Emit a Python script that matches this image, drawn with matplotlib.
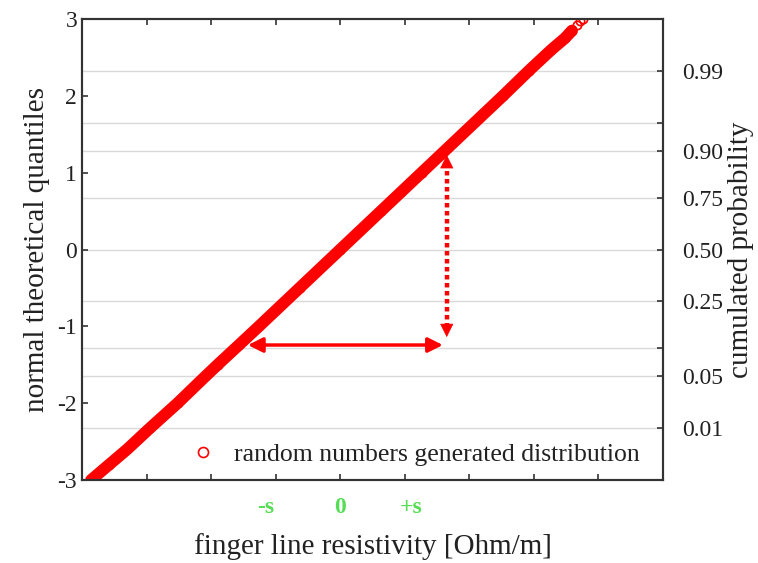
import matplotlib
matplotlib.use("Agg")
import matplotlib.pyplot as plt
from statistics import NormalDist

plt.rcParams['font.family'] = ['Liberation Serif', 'DejaVu Serif']

# normal theoretical quantiles (y) and resistivity readings in axis units (x)
quantiles = [-3.0, -2.8, -2.6, -2.326, -2.0, -1.7, -1.5, -1.243, -1.0, -0.5, 0.0,
             0.5, 1.0, 1.23, 1.5, 2.0, 2.326, 2.6, 2.75, 2.85, 2.92, 2.97, 3.0]
resistivity = [0.14, 0.42, 0.70, 1.05, 1.48, 1.85, 2.10, 2.43, 2.74, 3.37, 4.00,
               4.63, 5.26, 5.55, 5.89, 6.52, 6.92, 7.27, 7.48, 7.59, 7.66, 7.72, 7.76]

left_ticks = [-3, -2, -1, 0, 1, 2, 3]
prob_ticks = [0.01, 0.05, 0.10, 0.25, 0.50, 0.75, 0.90, 0.95, 0.99]
prob_labels = ['0.01', '0.05', '', '0.25', '0.50', '0.75', '0.90', '', '0.99']
x_ticks = list(range(0, 10))
sigma_pos = [2.85, 4.0, 5.1]
sigma_labels = ['-s', '0', '+s']

RED = '#ff0000'
GREEN = '#55dd55'
TXT = '#222222'

fig = plt.figure(figsize=(7.58, 5.63), dpi=100)
ax = fig.add_axes([0.1082, 0.1474, 0.7665, 0.8188])
ax.set_xlim(0, 9)
ax.set_ylim(-3, 3)

prob_pos = [NormalDist().inv_cdf(p) for p in prob_ticks]
for yp in prob_pos:
    ax.axhline(yp, color='#d9d9d9', lw=1.0, zorder=0)

# band of points
ax.plot(resistivity[:-3], quantiles[:-3], color=RED, lw=8.5, solid_capstyle='round', zorder=2)
ax.plot(resistivity, quantiles, 'o', mfc='none', mec=RED, ms=6, mew=1.2, zorder=3,
        label='random numbers generated distribution')

ax.xaxis.remove_overlapping_locs = False
ax.set_yticks(left_ticks)
ax.set_yticklabels([str(t) for t in left_ticks])
ax.set_xticks(x_ticks)
ax.set_xticklabels([])
ax.set_xticks(sigma_pos, minor=True)
ax.set_xticklabels(sigma_labels, minor=True, color=GREEN, fontweight='bold', fontsize=17)
ax.tick_params(axis='x', which='minor', length=0, pad=12)
ax.tick_params(axis='both', which='major', direction='in', length=4, width=1.2,
               labelsize=17, top=True, colors='#333333', labelcolor=TXT)

for s in ax.spines.values():
    s.set_linewidth(1.5)
    s.set_color('#333333')

ax2 = ax.twinx()
ax2.set_ylim(-3, 3)
ax2.set_yticks(prob_pos)
ax2.set_yticklabels(prob_labels)
ax2.tick_params(axis='y', direction='in', length=4, width=1.2, labelsize=17,
                colors='#333333', labelcolor=TXT, pad=14)
for s in ax2.spines.values():
    s.set_linewidth(1.5)
    s.set_color('#333333')

ax.set_ylabel('normal theoretical quantiles', fontsize=21, color=TXT)
ax.yaxis.set_label_coords(-0.055, 0.5)
ax2.set_ylabel('cumulated probability', fontsize=21, color=TXT)
ax2.yaxis.set_label_coords(1.112, 0.5)
ax.set_xlabel('finger line resistivity [Ohm/m]', fontsize=21, color=TXT)
ax.xaxis.set_label_coords(0.5, -0.115)

leg = ax.legend(loc='lower right', bbox_to_anchor=(1.0, -0.02), frameon=False,
                fontsize=18.5, handlelength=1.0, handletextpad=0.7, markerscale=1.2)
for t in leg.get_texts():
    t.set_color(TXT)

# horizontal double arrow
ax.annotate('', xy=(2.57, -1.243), xytext=(5.59, -1.243),
            arrowprops=dict(arrowstyle='<|-|>', color=RED, lw=2.5, mutation_scale=22,
                            shrinkA=0, shrinkB=0))
# vertical dotted double arrow
ax.plot([5.65, 5.65], [1.12, -1.03], color=RED, lw=3.2, linestyle=(0, (1.0, 0.8)),
        zorder=4)
ax.annotate('', xy=(5.65, 1.23), xytext=(5.65, 1.1),
            arrowprops=dict(arrowstyle='-|>', color=RED, lw=0.5, mutation_scale=22,
                            shrinkA=0, shrinkB=0))
ax.annotate('', xy=(5.65, -1.14), xytext=(5.65, -1.0),
            arrowprops=dict(arrowstyle='-|>', color=RED, lw=0.5, mutation_scale=22,
                            shrinkA=0, shrinkB=0))

fig.savefig('out.png', dpi=100)
